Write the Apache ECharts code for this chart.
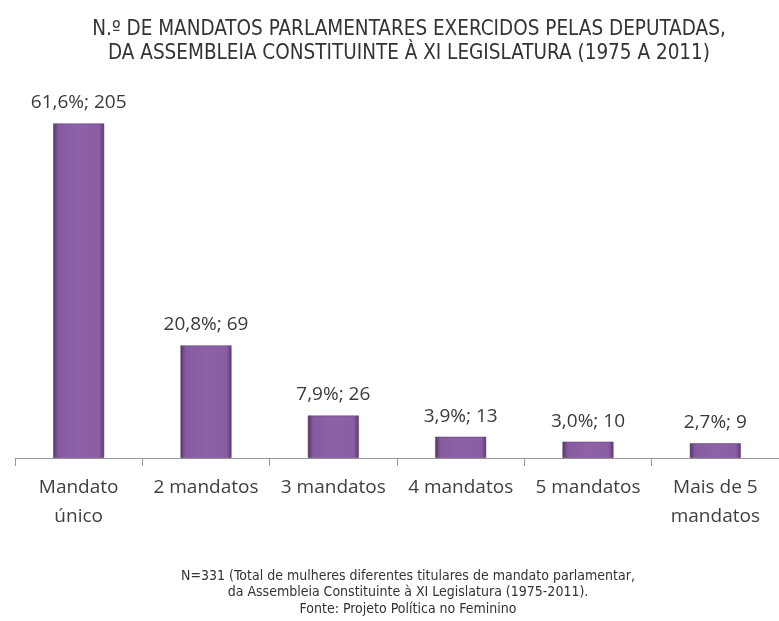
<!DOCTYPE html>
<html>
<head>
<meta charset="utf-8">
<script src="https://cdn.jsdelivr.net/npm/echarts@6/dist/echarts.min.js"></script>
<style>html,body{margin:0;padding:0;background:#fff}#c{width:779px;height:621px}</style>
</head>
<body>
<div id="c"></div>
<script>
const categories = ["Mandato\núnico", "2 mandatos", "3 mandatos", "4 mandatos", "5 mandatos", "Mais de 5\nmandatos"];
const counts = [205, 69, 26, 13, 10, 9];
const percents = ["61,6%", "20,8%", "7,9%", "3,9%", "3,0%", "2,7%"];
const titleText = "N.º DE MANDATOS PARLAMENTARES EXERCIDOS PELAS DEPUTADAS,\nDA ASSEMBLEIA CONSTITUINTE À XI LEGISLATURA (1975 A 2011)";
const footerText = "N=331 (Total de mulheres diferentes titulares de mandato parlamentar,\nda Assembleia Constituinte à XI Legislatura (1975-2011).\nFonte: Projeto Política no Feminino";

const narrow = "'Liberation Sans Narrow', 'DejaVu Sans Condensed', 'Roboto Condensed', 'Arial Narrow', sans-serif";
const chart = echarts.init(document.getElementById('c'), null, {renderer: 'canvas'});
chart.setOption({
  backgroundColor: '#ffffff',
  animation: false,
  title: [
    {
      text: titleText,
      left: 404, top: 13, textAlign: 'center',
      textStyle: {fontFamily: narrow, fontSize: 20.5, fontWeight: 'normal', color: '#333333', lineHeight: 24}
    },
    {
      text: footerText,
      left: 403, top: 563, textAlign: 'center',
      textStyle: {fontFamily: narrow, fontSize: 14, fontWeight: 'normal', color: '#333333', lineHeight: 16.5}
    }
  ],
  grid: {left: 15, right: -7, top: 50, bottom: 163, containLabel: false},
  xAxis: {
    type: 'category',
    data: categories,
    axisLine: {lineStyle: {color: '#9a9a9a', width: 1}},
    axisTick: {show: true, alignWithLabel: false, length: 8, lineStyle: {color: '#9a9a9a'}},
    axisLabel: {
      fontFamily: 'Open Sans', fontSize: 19, color: '#404040', lineHeight: 29, margin: 15, interval: 0
    }
  },
  yAxis: {type: 'value', min: 0, max: 250, show: false, splitLine: {show: false}},
  series: [{
    type: 'bar',
    data: counts,
    barWidth: 51,
    itemStyle: {
      color: new echarts.graphic.LinearGradient(0, 0, 1, 0, [
        {offset: 0, color: '#553468'},
        {offset: 0.1, color: '#855a9f'},
        {offset: 0.5, color: '#8e61a8'},
        {offset: 0.9, color: '#8a5ea4'},
        {offset: 1, color: '#5d3b73'}
      ]),
      borderColor: '#5a3a6f', borderWidth: 0.5
    },
    label: {
      show: true, position: 'top', distance: 11,
      fontFamily: 'Open Sans', fontSize: 19, color: '#3a3a3a',
      formatter: p => percents[p.dataIndex] + '; ' + counts[p.dataIndex]
    }
  }]
});
</script>
</body>
</html>
